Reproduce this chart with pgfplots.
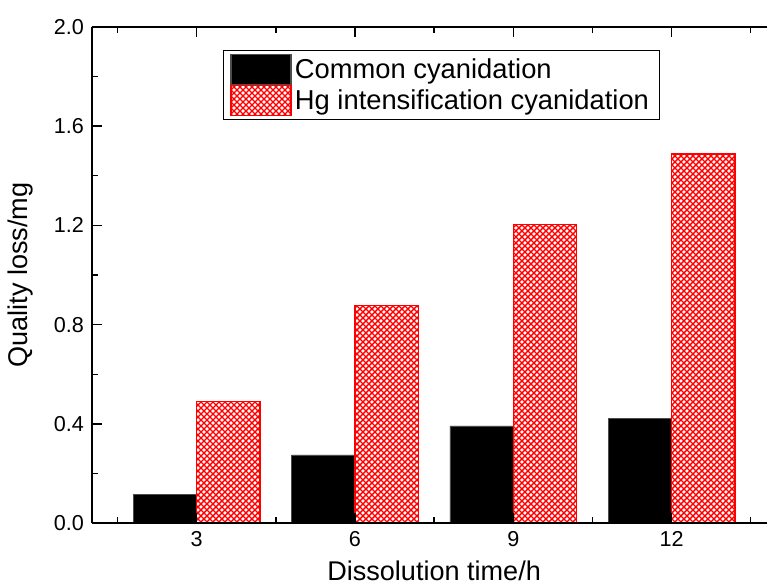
\documentclass[border=0pt]{standalone}
\usepackage{fontspec}
\setmainfont{Liberation Sans}
\usepackage{pgfplots}
\pgfplotsset{compat=1.18}
\usetikzlibrary{patterns}
\pgfdeclarepatternformonly{diagcross}{\pgfqpoint{-1pt}{-1pt}}{\pgfqpoint{5.5pt}{5.5pt}}{\pgfqpoint{4.5pt}{4.5pt}}{
  \pgfsetlinewidth{1.0pt}
  \pgfpathmoveto{\pgfqpoint{-0.5pt}{-0.5pt}}\pgfpathlineto{\pgfqpoint{5pt}{5pt}}
  \pgfpathmoveto{\pgfqpoint{-0.5pt}{5pt}}\pgfpathlineto{\pgfqpoint{5pt}{-0.5pt}}
  \pgfusepath{stroke}}
\pgfplotsset{mylegend/.style={legend image code/.code={\draw[##1, line width=0.8pt] (0pt,-11.25pt) rectangle (45pt,11.25pt);}}}
\begin{document}
\begin{tikzpicture}
\begin{axis}[
  width=506.5pt, height=372.45pt, scale only axis,
  xmin=-0.663, xmax=3.603, ymin=0, ymax=2,
  axis y line*=left,
  axis on top,
  ybar, bar width=0.4,
  xtick={0,1,2,3}, xticklabels={3,6,9,12},
  minor xtick={-0.5,0.5,1.5,2.5,3.5},
  ytick={0,0.4,0.8,1.2,1.6,2.0},
  minor ytick={0.2,0.6,1.0,1.4,1.8},
  yticklabel style={/pgf/number format/fixed, /pgf/number format/fixed zerofill, /pgf/number format/precision=1},
  /pgf/number format/assume math mode=true,
  tick align=inside,
  major tick length=7.5pt, minor tick length=4.5pt,
  every tick/.style={black, line width=1.1pt},
  axis line style={line width=1.5pt},
  ticklabel style={font=\fontsize{16.2}{19}\selectfont},
  xticklabel style={yshift=-2.4pt},
  yticklabel style={xshift=-2.4pt},
  label style={font=\fontsize{20.3}{23}\selectfont},
  xlabel={Dissolution time/h}, ylabel={Quality loss/mg},
  xlabel style={at={(axis description cs:0.507,-0.115)}, anchor=base, inner sep=0pt},
  ylabel style={at={(axis description cs:-0.087,0.5)}, anchor=south, inner sep=0pt},
  legend style={at={(axis description cs:0.194,0.953)}, anchor=north west, draw=black, line width=0.6pt,
    inner xsep=5.5pt, inner ysep=2.5pt, row sep=0pt, column sep=0pt,
    font=\fontsize{20.5}{23}\selectfont, cells={anchor=west}, nodes={inner xsep=2.6pt, inner ysep=0pt}},
]
\addplot[ybar, bar shift=-0.2, fill=black, draw=black!70, line width=0.4pt, mylegend]
  coordinates {(0,0.117) (1,0.275) (2,0.392) (3,0.423)};
\addplot[ybar, bar shift=0.2, draw=red, line width=1pt, pattern=diagcross, pattern color=red, mylegend]
  coordinates {(0,0.490) (1,0.876) (2,1.203) (3,1.487)};
\legend{Common cyanidation, Hg intensification cyanidation}
\end{axis}
\pgfresetboundingbox
\path[use as bounding box] ([shift={(-68.8pt,-46.3pt)}]current axis.south west) rectangle ([shift={(0pt,20pt)}]current axis.north east);
\end{tikzpicture}
\end{document}
